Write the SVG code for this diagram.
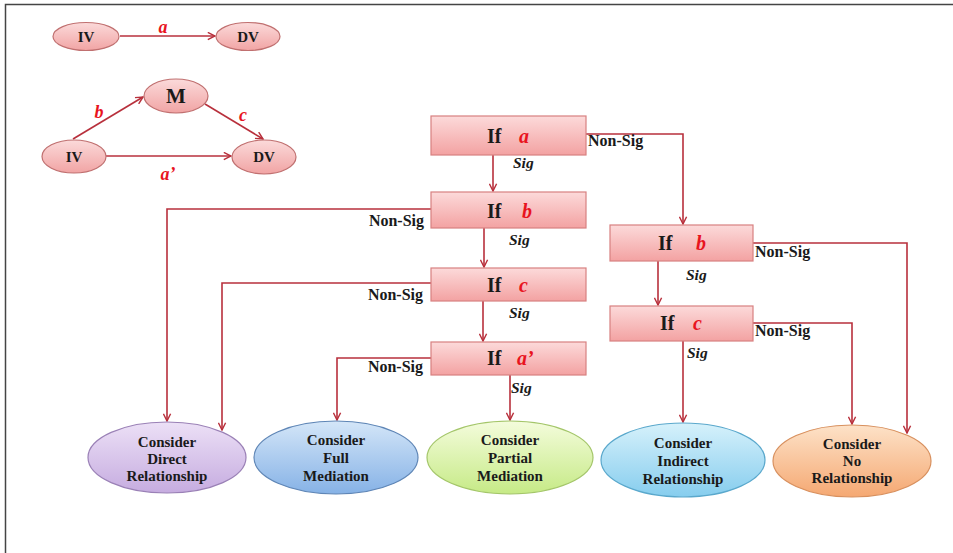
<svg xmlns="http://www.w3.org/2000/svg" width="953" height="553" viewBox="0 0 953 553">
<style>
.lbl{font-family:"Liberation Serif","Times New Roman",serif;font-weight:bold;fill:#1a1a1a}
.node{font-size:15px;text-anchor:middle}
.ns{font-size:16px}
.sig{font-size:15.5px;font-style:italic}
.ifx{font-size:20px}
.var{font-family:"Liberation Serif","Times New Roman",serif;font-weight:bold;font-style:italic;fill:#e8141e}
.con{fill:none;stroke:#b8303c;stroke-width:1.6}
.box{fill:url(#gBox);stroke:#d88080;stroke-width:1.2}
.pink{fill:url(#gPink);stroke:#c07070;stroke-width:1.2}
</style>
<defs>
<linearGradient id="gBox" x1="0" y1="0" x2="0" y2="1"><stop offset="0" stop-color="#fcdada"/><stop offset="1" stop-color="#f3a2a2"/></linearGradient>
<linearGradient id="gPink" x1="0" y1="0" x2="0" y2="1"><stop offset="0" stop-color="#fbdada"/><stop offset="1" stop-color="#f1a4a4"/></linearGradient>
<linearGradient id="gPur" x1="0" y1="0" x2="0" y2="1"><stop offset="0" stop-color="#ece0f6"/><stop offset="1" stop-color="#c6ace0"/></linearGradient>
<linearGradient id="gBlu" x1="0" y1="0" x2="0" y2="1"><stop offset="0" stop-color="#d4e6f8"/><stop offset="1" stop-color="#86b2e6"/></linearGradient>
<linearGradient id="gGrn" x1="0" y1="0" x2="0" y2="1"><stop offset="0" stop-color="#f4fcdc"/><stop offset="1" stop-color="#c6ea86"/></linearGradient>
<linearGradient id="gCya" x1="0" y1="0" x2="0" y2="1"><stop offset="0" stop-color="#d6f1fb"/><stop offset="1" stop-color="#86cdee"/></linearGradient>
<linearGradient id="gOrg" x1="0" y1="0" x2="0" y2="1"><stop offset="0" stop-color="#fde2c8"/><stop offset="1" stop-color="#f5a872"/></linearGradient>
<marker id="arr" viewBox="0 0 10 10" refX="9" refY="5" markerWidth="9" markerHeight="9" markerUnits="userSpaceOnUse" orient="auto">
<path d="M1,1 L9,5 L1,9" fill="none" stroke="#b8303c" stroke-width="1.6"/>
</marker>
</defs>
<rect width="953" height="553" fill="#ffffff"/>
<path d="M5.5,553 V4.5 H953" fill="none" stroke="#444" stroke-width="1.5"/>

<g id="connectors">
<line class="con" x1="120" y1="36" x2="215" y2="36" marker-end="url(#arr)"/>
<line class="con" x1="73" y1="139" x2="143" y2="97" marker-end="url(#arr)"/>
<line class="con" x1="205" y1="104" x2="263" y2="139" marker-end="url(#arr)"/>
<line class="con" x1="106" y1="156" x2="231" y2="156" marker-end="url(#arr)"/>
<line class="con" x1="493" y1="155" x2="493" y2="191" marker-end="url(#arr)"/>
<polyline class="con" points="586,134 683,134 683,224" marker-end="url(#arr)"/>
<polyline class="con" points="431,209 167,209 167,421" marker-end="url(#arr)"/>
<line class="con" x1="484" y1="228" x2="484" y2="267" marker-end="url(#arr)"/>
<polyline class="con" points="431,283 222,283 222,430" marker-end="url(#arr)"/>
<line class="con" x1="483" y1="301" x2="483" y2="341" marker-end="url(#arr)"/>
<polyline class="con" points="431,358 337,358 337,420" marker-end="url(#arr)"/>
<line class="con" x1="510" y1="375" x2="510" y2="420" marker-end="url(#arr)"/>
<line class="con" x1="658" y1="261" x2="658" y2="305" marker-end="url(#arr)"/>
<polyline class="con" points="753,243 907,243 907,433" marker-end="url(#arr)"/>
<polyline class="con" points="753,323 852,323 852,424" marker-end="url(#arr)"/>
<line class="con" x1="683" y1="341" x2="683" y2="422" marker-end="url(#arr)"/>
<text class="var" x="163" y="33" font-size="18" text-anchor="middle">a</text>
<text class="var" x="99" y="118" font-size="18" text-anchor="middle">b</text>
<text class="var" x="243" y="121" font-size="18" text-anchor="middle">c</text>
<text class="var" x="168" y="180" font-size="18" text-anchor="middle">a’</text>
<text class="lbl ns" x="588" y="146">Non-Sig</text>
<text class="lbl sig" x="513" y="168">Sig</text>
<text class="lbl ns" x="424" y="226" text-anchor="end">Non-Sig</text>
<text class="lbl sig" x="509" y="245">Sig</text>
<text class="lbl ns" x="423" y="300" text-anchor="end">Non-Sig</text>
<text class="lbl sig" x="509" y="318">Sig</text>
<text class="lbl ns" x="423" y="372" text-anchor="end">Non-Sig</text>
<text class="lbl sig" x="511" y="393">Sig</text>
<text class="lbl ns" x="755" y="257">Non-Sig</text>
<text class="lbl sig" x="686" y="280">Sig</text>
<text class="lbl ns" x="755" y="336">Non-Sig</text>
<text class="lbl sig" x="687" y="358">Sig</text>
</g>

<g id="iv1"><ellipse class="pink" cx="86" cy="36.5" rx="33" ry="14"/><text class="lbl node" x="86" y="41.5">IV</text></g>
<g id="dv1"><ellipse class="pink" cx="248" cy="36.5" rx="32" ry="14"/><text class="lbl node" x="248" y="41.5">DV</text></g>
<g id="m"><ellipse class="pink" cx="176" cy="96" rx="32" ry="17"/><text class="lbl" x="176" y="103" font-size="21" text-anchor="middle">M</text></g>
<g id="iv2"><ellipse class="pink" cx="74" cy="156.5" rx="32" ry="16.5"/><text class="lbl node" x="74" y="161.5">IV</text></g>
<g id="dv2"><ellipse class="pink" cx="264" cy="157" rx="32" ry="17"/><text class="lbl node" x="264" y="162">DV</text></g>

<g id="if-a"><rect class="box" x="431" y="116" width="155" height="39"/><text class="lbl ifx" x="487" y="143">If</text><text class="var" x="519" y="143" font-size="20">a</text></g>
<g id="if-b"><rect class="box" x="431" y="192" width="155" height="36"/><text class="lbl ifx" x="487" y="218">If</text><text class="var" x="522" y="218" font-size="20">b</text></g>
<g id="if-c"><rect class="box" x="431" y="268" width="155" height="33"/><text class="lbl ifx" x="487" y="292">If</text><text class="var" x="519" y="292" font-size="20">c</text></g>
<g id="if-a2"><rect class="box" x="431" y="342" width="155" height="33"/><text class="lbl ifx" x="487" y="365">If</text><text class="var" x="517" y="365" font-size="20">a’</text></g>
<g id="if-b2"><rect class="box" x="610" y="225" width="143" height="36"/><text class="lbl ifx" x="658" y="250">If</text><text class="var" x="696" y="250" font-size="20">b</text></g>
<g id="if-c2"><rect class="box" x="610" y="306" width="143" height="35"/><text class="lbl ifx" x="660" y="330">If</text><text class="var" x="693" y="330" font-size="20">c</text></g>

<g id="direct"><ellipse cx="167" cy="457.5" rx="79" ry="35.5" fill="url(#gPur)" stroke="#9a80b6" stroke-width="1.2"/>
<text class="lbl node" x="167" y="447">Consider</text><text class="lbl node" x="167" y="464">Direct</text><text class="lbl node" x="167" y="481">Relationship</text></g>
<g id="full"><ellipse cx="336" cy="457.5" rx="82" ry="36.5" fill="url(#gBlu)" stroke="#5f86b6" stroke-width="1.2"/>
<text class="lbl node" x="336" y="445">Consider</text><text class="lbl node" x="336" y="463">Full</text><text class="lbl node" x="336" y="481">Mediation</text></g>
<g id="partial"><ellipse cx="510" cy="457.5" rx="83" ry="36.5" fill="url(#gGrn)" stroke="#a4c66a" stroke-width="1.2"/>
<text class="lbl node" x="510" y="445">Consider</text><text class="lbl node" x="510" y="463">Partial</text><text class="lbl node" x="510" y="481">Mediation</text></g>
<g id="indirect"><ellipse cx="683" cy="460" rx="82" ry="37" fill="url(#gCya)" stroke="#5aa8cc" stroke-width="1.2"/>
<text class="lbl node" x="683" y="448">Consider</text><text class="lbl node" x="683" y="466">Indirect</text><text class="lbl node" x="683" y="484">Relationship</text></g>
<g id="norel"><ellipse cx="852" cy="461" rx="79" ry="36" fill="url(#gOrg)" stroke="#d8905e" stroke-width="1.2"/>
<text class="lbl node" x="852" y="449">Consider</text><text class="lbl node" x="852" y="466">No</text><text class="lbl node" x="852" y="483">Relationship</text></g>
</svg>
